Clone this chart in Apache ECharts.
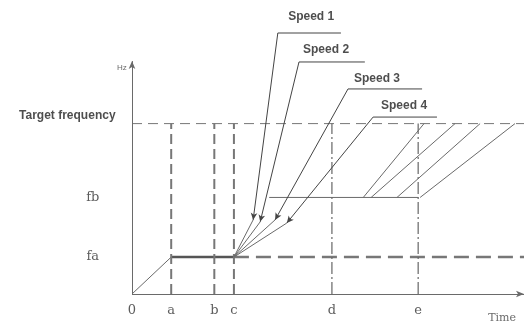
<!DOCTYPE html>
<html>
<head>
<meta charset="utf-8">
<script src="https://cdn.jsdelivr.net/npm/echarts@6/dist/echarts.min.js"></script>
<style>
  html, body { margin: 0; padding: 0; background: #fff; }
  #chart { width: 528px; height: 327px; }
</style>
</head>
<body>
<div id="chart"></div>
<script>
// time marks on the horizontal axis
const timeLabels = ['0', 'a', 'b', 'c', 'd', 'e']
const timeValues = [0, 10, 21, 26, 51, 73]
const timeEnd = 100

// frequency levels
const freqLabels = ['fa', 'fb', 'Target frequency']
const freqValues = [13, 34, 60]
const freqTop = 82

// speed curves: tip of each fan line (where the leader arrow points)
const speedLabels = ['Speed 1', 'Speed 2', 'Speed 3', 'Speed 4']
const fanTipX = [30.9, 32.7, 36.5, 39.5]
const fanTipY = [26.1, 25.4, 26.1, 25]
// leader lines: underline left/right ends and height
const leaderStartX = [37.2, 42.6, 55.1, 61.5]
const leaderEndX = [53.3, 59.4, 74, 77.8]
const leaderY = [91.9, 81.7, 72.2, 62.3]
const speedTextX = [45.7, 49.5, 62.5, 69.4]
const speedTextY = [97.5, 85.9, 75.7, 66.2]

// parallel ramps from fb up to target frequency
const rampStartX = [59, 61, 67.6, 73.5]
const rampEndX = [74.5, 82.4, 88.8, 97.7]
const fbLineStartX = 35

const [t0, ta, tb, tc, td, te] = timeValues
const [fa, fb, ft] = freqValues

const gray = '#6a6a6a'
const dark = '#444'

function seg(points, style) {
  return {
    type: 'line',
    data: points,
    symbol: 'none',
    clip: false,
    silent: true,
    animation: false,
    lineStyle: Object.assign({ color: gray, width: 1 }, style)
  }
}

function arrows(lines, style, size) {
  return {
    type: 'line',
    data: [],
    silent: true,
    animation: false,
    markLine: {
      silent: true,
      animation: false,
      symbol: ['none', 'arrow'],
      symbolSize: size,
      label: { show: false },
      lineStyle: Object.assign({ color: dark, width: 1, type: 'solid' }, style),
      data: lines.map(l => [{ coord: l[0] }, { coord: l[1] }])
    }
  }
}

function texts(items, font) {
  return {
    type: 'scatter',
    data: items,
    symbolSize: 0,
    clip: false,
    silent: true,
    animation: false,
    label: Object.assign({
      show: true,
      position: 'inside',
      formatter: p => p.value[2],
      color: '#333'
    }, font)
  }
}

const series = []

// axes with arrow heads
series.push(arrows([
  [[0, 0], [0, freqTop]],
  [[0, 0], [timeEnd, 0]]
], { color: gray, width: 1 }, [5, 8]))

// ramp from 0 to fa, then hold
series.push(seg([[t0, 0], [ta, fa]], { width: 1 }))
series.push(seg([[ta, fa], [tc, fa]], { width: 2.5, color: '#555' }))
series.push(seg([[tc, fa], [timeEnd, fa]], { width: 2.5, color: '#777', type: [15, 7] }))

// target frequency dashed line
series.push(seg([[0, ft], [timeEnd, ft]], { width: 1, color: '#777', type: [10, 6] }))

// vertical dashed time marks
;[ta, tb, tc].forEach(t => {
  series.push(seg([[t, 0], [t, ft]], { width: 2, color: '#777', type: [10, 5] }))
})
;[td, te].forEach(t => {
  series.push(seg([[t, 0], [t, ft]], { width: 1.2, color: '#666', type: [12, 3, 2, 3] }))
})

// fb hold line
series.push(seg([[fbLineStartX, fb], [te, fb]], { width: 1, color: gray }))

// fan lines from c
fanTipX.forEach((x, i) => {
  series.push(seg([[tc, fa], [x, fanTipY[i]]], { width: 1, color: gray }))
})

// parallel ramps fb -> target
rampStartX.forEach((x, i) => {
  series.push(seg([[x, fb], [rampEndX[i], ft]], { width: 1, color: gray }))
})

// leader underlines
leaderStartX.forEach((x, i) => {
  series.push(seg([[x, leaderY[i]], [leaderEndX[i], leaderY[i]]], { width: 1, color: dark }))
})

// leader lines with arrows pointing at the fan lines
series.push(arrows(leaderStartX.map((x, i) => [[x, leaderY[i]], [fanTipX[i], fanTipY[i]]]),
  { color: dark, width: 1 }, [5, 7]))

// texts
series.push(texts(speedLabels.map((s, i) => [speedTextX[i], speedTextY[i], s]),
  { fontFamily: 'Liberation Sans', fontWeight: 'bold', fontSize: 12, color: '#222' }))

series.push(texts([[-16.5, 62.7, freqLabels[2]]],
  { fontFamily: 'Liberation Sans', fontWeight: 'bold', fontSize: 12, color: '#222' }))

series.push(texts([[-10, fa, freqLabels[0]], [-10, fb, freqLabels[1]]],
  { fontFamily: 'DejaVu Serif', fontSize: 13, color: '#333' }))

series.push(texts(timeLabels.map((s, i) => [timeValues[i], -6, s]),
  { fontFamily: 'DejaVu Serif', fontSize: 13, color: '#333' }))

series.push(texts([[94.4, -8.5, 'Time']],
  { fontFamily: 'DejaVu Serif', fontSize: 11, color: '#444' }))

series.push(texts([[-2.6, 79.6, 'Hz']],
  { fontFamily: 'Liberation Sans', fontSize: 8, color: '#444' }))

const chart = echarts.init(document.getElementById('chart'))
chart.setOption({
  animation: false,
  backgroundColor: '#fff',
  grid: { left: 132, right: 4, top: 10, bottom: 33 },
  xAxis: { type: 'value', min: 0, max: 100, show: false },
  yAxis: { type: 'value', min: 0, max: 100, show: false },
  series: series
})
</script>
</body>
</html>
